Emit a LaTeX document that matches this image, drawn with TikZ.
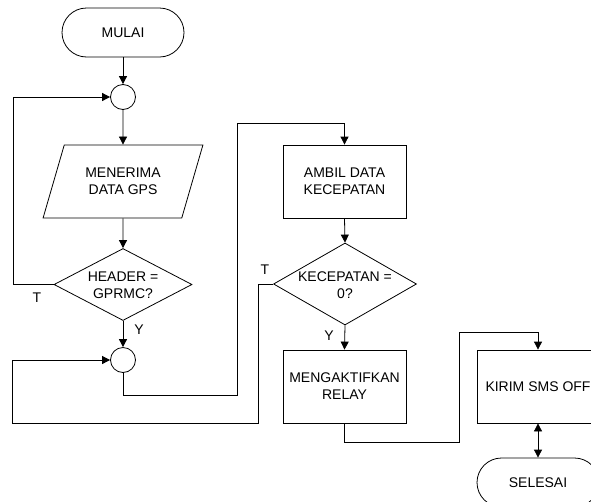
\documentclass[tikz,border=0pt]{standalone}
\usepackage{fontspec}
\setmainfont{Liberation Sans}
\usetikzlibrary{shapes.geometric,arrows.meta}
\begin{document}
\begin{tikzpicture}[x=1pt,y=-1pt,
  every node/.style={font=\fontsize{14}{17}\selectfont, align=center, inner sep=0pt},
  ln/.style={line width=0.8pt, draw=black},
  arr/.style={ln, -{Triangle[length=8pt,width=8pt]}},
  darr/.style={ln, {Triangle[length=8pt,width=8pt]}-{Triangle[length=8pt,width=8pt]}},
  term/.style={ln, rectangle, rounded corners=24.5pt, minimum width=122pt, minimum height=49pt},
  conn/.style={ln, circle, minimum size=25pt},
  proc/.style={ln, rectangle, minimum width=123pt, minimum height=73pt},
  io/.style={ln, trapezium, trapezium left angle=63.1, trapezium right angle=116.9,
    trapezium stretches=true, minimum width=160pt, minimum height=73pt},
  dec/.style={ln, diamond},
  lbl/.style={font=\fontsize{14}{17}\selectfont}
]
\useasboundingbox (0,0) rectangle (591,501);
\clip (0,0) rectangle (591,501);

% nodes
\node[term] (mulai) at (123,32.5) {MULAI};
\node[conn] (c1) at (123,97) {};
\node[io] (para) at (123,181.5) {MENERIMA\\DATA GPS};
\node[dec, minimum width=138pt, minimum height=72pt] (d1) at (123,284.5) {};
\node (d1t) at (123,285) {HEADER =\\GPRMC?};
\node[conn] (c2) at (123,360) {};
\node[proc] (ambil) at (344.5,181.5) {AMBIL DATA\\KECEPATAN};
\node[dec, minimum width=143pt, minimum height=82pt] (d2) at (345,284) {};
\node (d2t) at (345,285) {KECEPATAN =\\0?};
\node[proc] (relay) at (344.5,386.5) {MENGAKTIFKAN\\RELAY};
\node[proc, minimum width=122pt] (kirim) at (538,386.5) {KIRIM SMS OFF};
\node[term] (selesai) at (538,482.5) {SELESAI};

% labels
\node[lbl] (t1) at (37,298) {T};
\node[lbl] (y1) at (139,330) {Y};
\node[lbl] (t2) at (265,270) {T};
\node[lbl] (y2) at (329,336) {Y};

% helper coordinates
\coordinate (l1) at (13,284.5);
\coordinate (l2a) at (258,284);
\coordinate (l2b) at (258,423);
\coordinate (l2c) at (12,423);
\coordinate (k1) at (237,395);
\coordinate (k2) at (237,123);
\coordinate (m1) at (459,442);
\coordinate (m2) at (459,332);

% connectors
\draw[arr] (mulai) -- (c1);
\draw[arr] (c1) -- (para.north);
\draw[arr] (para.south) -- (d1.north);
\draw[arr] (d1.west) -- (l1) |- (c1.west);
\draw[arr] (d1.south) -- (c2.north);
\draw[arr] (d2.west) -- (l2a) -- (l2b) -- (l2c) |- (c2.west);
\draw[arr] (c2.south) -- (c2.south |- k1) -- (k1) -- (k2) -| (ambil.north);
\draw[arr] (ambil.south) -- (d2.north);
\draw[arr] (d2.south) -- (relay.north);
\draw[arr] (relay.south) -- (relay.south |- m1) -- (m1) -- (m2) -| (kirim.north);
\draw[darr] (kirim.south) -- (selesai.north);
\end{tikzpicture}
\end{document}
